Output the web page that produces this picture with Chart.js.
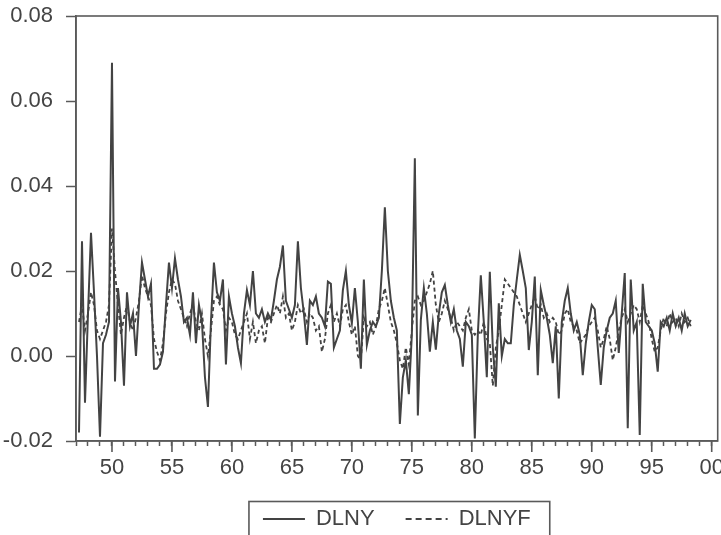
<!DOCTYPE html>
<html><head><meta charset="utf-8">
<script src="https://cdn.jsdelivr.net/npm/chart.js@4"></script>
<style>html,body{margin:0;padding:0;background:#fff;}canvas{display:block}</style>
</head><body>
<canvas id="c" width="721" height="535"></canvas>
<script>
// Quarterly observations, first value = 1947Q2
const seriesStart = '1947Q2';
const seriesNames = ['DLNY', 'DLNYF'];
const yTickValues = [-0.02, 0.00, 0.02, 0.04, 0.06, 0.08];
const majorYears = [1950, 1955, 1960, 1965, 1970, 1975, 1980, 1985, 1990, 1995, 2000];

const DLNY = [
 -0.018, 0.027, -0.011, 0.010, 0.029, 0.015, 0.000, -0.019, 0.003, 0.005, 0.008, 0.069,
 -0.006, 0.016, 0.008, -0.007, 0.015, 0.007, 0.010, 0.000, 0.012, 0.022, 0.018, 0.014,
 0.017, -0.003, -0.003, -0.002, 0.001, 0.012, 0.022, 0.016, 0.023, 0.018, 0.014, 0.008,
 0.009, 0.005, 0.015, 0.003, 0.012, 0.008, -0.005, -0.012, 0.008, 0.022, 0.015, 0.013,
 0.018, -0.002, 0.014, 0.010, 0.007, 0.002, -0.0017, 0.010, 0.0155, 0.012, 0.020, 0.010,
 0.009, 0.011, 0.008, 0.010, 0.0085, 0.013, 0.018, 0.021, 0.026, 0.013, 0.011, 0.009,
 0.012, 0.027, 0.016, 0.010, 0.0026, 0.013, 0.012, 0.014, 0.010, 0.009, 0.007, 0.0175,
 0.017, 0.002, 0.004, 0.006, 0.0155, 0.020, 0.012, 0.0077, 0.016, 0.008, -0.003, 0.018,
 0.0026, 0.006, 0.008, 0.007, 0.009, 0.020, 0.035, 0.020, 0.013, 0.009, 0.006, -0.016,
 -0.005, -0.001, -0.009, 0.005, 0.0465, -0.014, 0.0085, 0.016, 0.010, 0.001, 0.008, 0.0015,
 0.010, 0.015, 0.0167, 0.012, 0.008, 0.011, 0.006, 0.004, -0.0025, 0.008, 0.007, 0.005,
 -0.0194, 0.005, 0.019, 0.008, -0.005, 0.0198, 0.002, -0.0072, 0.0124, 0.000, 0.004, 0.003,
 0.003, 0.012, 0.018, 0.0238, 0.020, 0.016, 0.0014, 0.008, 0.0187, -0.0045, 0.0155, 0.012,
 0.009, 0.005, -0.0017, 0.007, -0.010, 0.008, 0.013, 0.016, 0.010, 0.006, 0.008, 0.005,
 -0.0045, 0.003, 0.008, 0.012, 0.011, 0.002, -0.0068, 0.002, 0.006, 0.009, 0.010, 0.013,
 0.0007, 0.010, 0.0195, -0.017, 0.018, 0.006, 0.008, -0.0186, 0.017, 0.008, 0.007, 0.006,
 0.003, -0.0037, 0.008, 0.007, 0.009, 0.006, 0.010, 0.007, 0.009, 0.006, 0.010, 0.007,
 0.0085
];

const DLNYF = [
 0.008, 0.012, 0.006, 0.010, 0.015, 0.012, 0.006, 0.004, 0.006, 0.008, 0.012, 0.030,
 0.020, 0.012, 0.005, 0.009, 0.012, 0.008, 0.006, 0.009, 0.013, 0.019, 0.016, 0.014,
 0.012, 0.004, 0.001, -0.001, 0.003, 0.010, 0.015, 0.018, 0.017, 0.013, 0.011, 0.009,
 0.007, 0.010, 0.012, 0.008, 0.006, 0.010, 0.004, 0.000, 0.006, 0.013, 0.014, 0.012,
 0.011, 0.006, 0.009, 0.008, 0.005, 0.004, 0.006, 0.008, 0.010, 0.004, 0.008, 0.003,
 0.006, 0.007, 0.003, 0.009, 0.008, 0.010, 0.012, 0.010, 0.014, 0.009, 0.010, 0.006,
 0.008, 0.012, 0.010, 0.011, 0.008, 0.010, 0.009, 0.006, 0.007, 0.001, 0.004, 0.010,
 0.012, 0.008, 0.010, 0.007, 0.011, 0.012, 0.008, 0.005, 0.007, 0.000, -0.001, 0.009,
 0.007, 0.008, 0.005, 0.007, 0.011, 0.013, 0.016, 0.012, 0.008, 0.006, 0.003, -0.001,
 -0.003, 0.002, -0.002, 0.006, 0.013, 0.014, 0.012, 0.013, 0.015, 0.017, 0.020, 0.012,
 0.008, 0.010, 0.013, 0.011, 0.009, 0.006, 0.008, 0.007, 0.006, 0.009, 0.011, 0.006,
 0.005, 0.006, 0.005, 0.008, 0.004, 0.003, -0.007, 0.002, 0.006, 0.012, 0.018, 0.017,
 0.016, 0.015, 0.014, 0.012, 0.010, 0.008, 0.010, 0.012, 0.014, 0.011, 0.012, 0.009,
 0.010, 0.008, 0.009, 0.008, 0.005, 0.006, 0.010, 0.011, 0.008, 0.007, 0.006, 0.003,
 0.004, 0.005, 0.007, 0.008, 0.009, 0.006, 0.002, 0.004, 0.007, 0.004, -0.001, 0.002,
 0.006, 0.009, 0.011, 0.008, 0.010, 0.012, 0.011, 0.008, 0.012, 0.010, 0.008, 0.004,
 0.001, 0.002, 0.006, 0.009, 0.007, 0.010, 0.008, 0.009, 0.007, 0.010, 0.008, 0.009,
 0.007
];

// category axis: every quarter from 1947Q1 to 2000Q3
const quarters = [];
for (let y = 1947; y <= 2000; y++) {
  for (let q = 1; q <= 4; q++) {
    if (y === 2000 && q > 3) break;
    quarters.push(y + 'Q' + q);
  }
}
const startIdx = quarters.indexOf(seriesStart);
function place(arr) {
  const out = new Array(quarters.length).fill(null);
  arr.forEach((v, i) => { out[startIdx + i] = v; });
  return out;
}
function isMajor(idx) {
  const lab = quarters[idx];
  if (!lab || !lab.endsWith('Q1')) return false;
  return majorYears.includes(parseInt(lab, 10));
}

const INK = '#434343';
const AX = '#5a5a5a';
const FONT = {family: "'Liberation Sans', Arial, sans-serif", size: 22};

const decor = {
  id: 'decor',
  afterDraw(chart) {
    const ctx = chart.ctx, ca = chart.chartArea, xs = chart.scales.x;
    ctx.save();
    ctx.strokeStyle = AX;
    ctx.lineWidth = 1.6;
    // longer major ticks
    quarters.forEach((q, i) => {
      if (!isMajor(i)) return;
      const px = xs.getPixelForValue(i);
      ctx.beginPath();
      ctx.moveTo(px, ca.bottom);
      ctx.lineTo(px, ca.bottom + 11);
      ctx.stroke();
    });
    // frame
    ctx.strokeRect(ca.left, ca.top, ca.right - ca.left, ca.bottom - ca.top);
    // legend border
    const hb = chart.legend.legendHitBoxes;
    if (hb && hb.length) {
      const cy = hb[0].top + FONT.size / 2;
      const l = hb[0].left - 14;
      const r = hb[hb.length - 1].left + hb[hb.length - 1].width + 19;
      ctx.strokeRect(l, cy - 17.5, r - l, 40);
    }
    ctx.restore();
  }
};

new Chart(document.getElementById('c'), {
  type: 'line',
  data: {
    labels: quarters,
    datasets: [
      {label: seriesNames[0], data: place(DLNY), borderColor: INK, borderWidth: 2,
       pointRadius: 0, pointHoverRadius: 0, pointBorderWidth: 0, tension: 0, fill: false},
      {label: seriesNames[1], data: place(DLNYF), borderColor: INK, borderWidth: 1.8,
       borderDash: [4, 3], pointRadius: 0, pointHoverRadius: 0, pointBorderWidth: 0, tension: 0, fill: false}
    ]
  },
  options: {
    responsive: false,
    animation: false,
    devicePixelRatio: 1,
    layout: {padding: {top: 16, right: 3.3, bottom: -5, left: 0}},
    plugins: {
      tooltip: {enabled: false},
      legend: {
        position: 'bottom',
        fullSize: false,
        labels: {
          color: '#444',
          font: FONT,
          padding: 31,
          usePointStyle: true,
          pointStyle: 'line',
          pointStyleWidth: 42,
          generateLabels(chart) {
            const items = Chart.defaults.plugins.legend.labels.generateLabels(chart);
            items.forEach((it, i) => {
              it.pointStyle = 'line';
              it.lineWidth = 1.8;
              it.strokeStyle = INK;
              it.lineDash = i === 1 ? [6, 4] : [];
            });
            return items;
          }
        }
      }
    },
    scales: {
      x: {
        type: 'category',
        offset: false,
        afterFit(scale) { scale.height = 36; scale.paddingLeft = 0; scale.paddingRight = 0; },
        border: {display: true, color: AX, width: 1.6},
        grid: {
          drawOnChartArea: false,
          drawTicks: true,
          tickLength: 5,
          tickWidth: 1.5,
          tickColor: (c) => (quarters[c.index] && quarters[c.index].endsWith('Q1')) ? AX : 'rgba(0,0,0,0)'
        },
        ticks: {
          autoSkip: false,
          maxRotation: 0,
          minRotation: 0,
          padding: 9,
          color: '#444',
          font: FONT,
          callback: (val, idx) => isMajor(idx) ? String(parseInt(quarters[idx], 10) % 100).padStart(2, '0') : ''
        }
      },
      y: {
        min: -0.02,
        max: 0.08,
        afterFit(scale) { scale.width = 76; scale.paddingTop = 0; scale.paddingBottom = 0; },
        afterBuildTicks(scale) { scale.ticks = yTickValues.map(v => ({value: v})); },
        border: {display: true, color: AX, width: 1.6},
        grid: {drawOnChartArea: false, tickLength: 10, tickWidth: 1.5, tickColor: AX},
        ticks: {
          padding: 13,
          color: '#444',
          font: FONT,
          callback: (v) => (Math.abs(v) < 1e-9 ? 0 : v).toFixed(2)
        }
      }
    }
  },
  plugins: [decor]
});
</script>
</body></html>
